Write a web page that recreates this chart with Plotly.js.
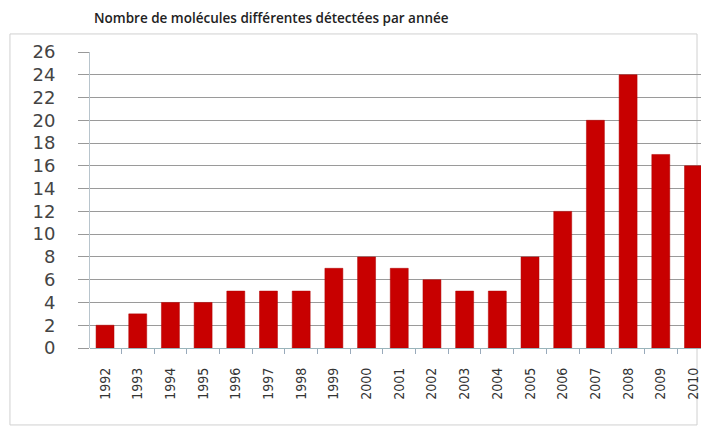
<!DOCTYPE html>
<html>
<head>
<meta charset="utf-8">
<script src="https://cdn.plot.ly/plotly-3.0.1.min.js"></script>
<style>html,body{margin:0;padding:0;background:#fff;}#chart{width:701px;height:429px;}</style>
</head>
<body>
<div id="chart"></div>
<script>
const years = ["1992","1993","1994","1995","1996","1997","1998","1999","2000","2001","2002","2003","2004","2005","2006","2007","2008","2009","2010"];
const counts = [2,3,4,4,5,5,5,7,8,7,6,5,5,8,12,20,24,17,16];
const yTicks = [0,2,4,6,8,10,12,14,16,18,20,22,24,26];
const chartTitle = "Nombre de molécules différentes détectées par année";

const data = [{
  type: "bar",
  x: years,
  y: counts,
  marker: {color: "#c80000", line: {color: "#b00000", width: 0.5}},
  hoverinfo: "x+y"
}];

const layout = {
  width: 701, height: 429,
  margin: {l: 90, r: 0, t: 52, b: 81},
  paper_bgcolor: "#ffffff",
  plot_bgcolor: "#ffffff",
  bargap: 0.45,
  showlegend: false,
  title: {
    text: chartTitle,
    font: {family: "Open Sans", size: 13.5, weight: 600, color: "#222"},
    x: 0.387, xref: "container", xanchor: "center",
    y: 0.958, yref: "container", yanchor: "middle"
  },
  xaxis: {
    type: "category",
    range: [-0.46, 18.23],
    tickangle: -90,
    tickfont: {family: "DejaVu Sans Condensed, DejaVu Sans", size: 14, color: "#333"},
    ticks: "outside", tickson: "boundaries", ticklen: 5, tickcolor: "#9ab",
    ticklabelstandoff: 16,
    showgrid: false,
    showline: false,
    zeroline: false,
    fixedrange: true
  },
  yaxis: {
    range: [0, 26],
    tickvals: yTicks,
    ticktext: yTicks.map(String),
    tickfont: {family: "DejaVu Sans", size: 18, color: "#444"},
    ticks: "outside", ticklen: 11, tickcolor: "#999", tickwidth: 1,
    ticklabelstandoff: 19,
    showgrid: true, gridcolor: "#9a9a9a", gridwidth: 1,
    showline: true, linecolor: "#b8c4cc", linewidth: 1,
    zeroline: true, zerolinecolor: "#9ab4bb", zerolinewidth: 1,
    fixedrange: true
  },
  shapes: [{
    type: "rect", xref: "paper", yref: "paper",
    x0: -0.131, x1: 0.9935, y0: -0.26, y1: 1.061,
    line: {color: "#d0d0d0", width: 1}, fillcolor: "rgba(0,0,0,0)", layer: "below"
  }]
};

Plotly.newPlot("chart", data, layout, {displayModeBar: false, staticPlot: true});
</script>
</body>
</html>
